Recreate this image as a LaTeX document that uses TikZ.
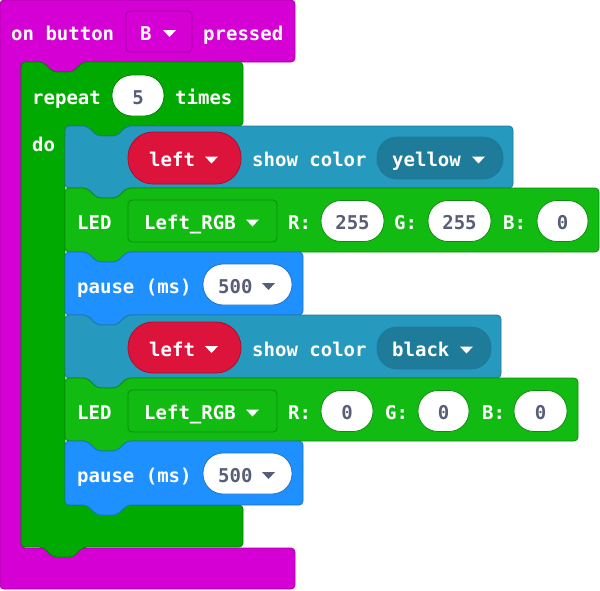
\documentclass[tikz,border=0pt]{standalone}
\usepackage{fontspec}
\setmonofont{DejaVu Sans Mono}
\usepackage{tikz}
\usetikzlibrary{positioning}

\definecolor{evt}{HTML}{D400D4}
\definecolor{evtline}{HTML}{A000A0}
\definecolor{loop}{HTML}{00AA00}
\definecolor{loopline}{HTML}{008200}
\definecolor{led}{HTML}{11BB11}
\definecolor{ledline}{HTML}{0C8C0C}
\definecolor{neo}{HTML}{2699BF}
\definecolor{neoline}{HTML}{1E7A99}
\definecolor{neodrop}{HTML}{1F7B9A}
\definecolor{basic}{HTML}{1E90FF}
\definecolor{basicline}{HTML}{1A73CC}
\definecolor{crim}{HTML}{DC143C}
\definecolor{crimline}{HTML}{A8102E}
\definecolor{valtext}{HTML}{575E75}

% stacked block: style, left, top, right, bottom
\newcommand{\stackblock}[5]{%
  \draw[#1] (#2,#3) -- ++(22,0) -- ++(10,10) -- ++(20,0) -- ++(10,-10)
    -- (#4,#3) -- (#4,#5) -- (#2+62,#5) -- ++(-10,10) -- ++(-20,0)
    -- ++(-10,-10) -- (#2,#5) -- cycle;}
% dropdown arrow: left, top, colour
\newcommand{\droparrow}[3]{\fill[#3] (#1,#2+1.5) -- ++(13,0) -- ++(-6.5,7) -- cycle;}

\begin{document}
\begin{tikzpicture}
    [x=1pt, y=-1pt,
     blk/.style={rounded corners=4pt, line width=0.8pt},
     txt/.style={anchor=west, inner sep=0pt, text height=13.5pt, text depth=0pt,
       yshift=-2pt, text=white, font=\ttfamily\bfseries\fontsize{19}{20}\selectfont},
     num/.style={txt, anchor=center, text=valtext},
     oval/.style={draw=#1, fill=white, line width=0.8pt, rounded corners=20pt,
       minimum height=41pt},
     menu/.style={draw=#1, line width=0.8pt, rounded corners=4pt,
       minimum height=42pt}]

    \useasboundingbox (0,0) rectangle (600,590);

    % on button B pressed
    \draw[blk, fill=evt, draw=evtline] (0,0) -- (295,0) -- (295,62) -- (83,62)
      -- ++(-10,10) -- ++(-20,0) -- ++(-10,-10) -- (21,62) -- (21,548)
      -- (295,548) -- (295,589) -- (0,589) -- cycle;
    \node[txt] (onbtn) at (11,31.5) {on button};
    \node[menu=evtline, fill=evt, minimum width=66pt, minimum height=41pt] (btnkey) at (159,31.5) {};
    \node[txt] (btnname) at (140,31.5) {B};
    \droparrow{163}{28.5}{white}
    \node[txt] (pressed) at (203,31.5) {pressed};

    % repeat 5 times
    \draw[blk, fill=loop, draw=loopline] (21,62) -- ++(22,0) -- ++(10,10)
      -- ++(20,0) -- ++(10,-10) -- (243,62) -- (243,126) -- (127,126)
      -- ++(-10,10) -- ++(-20,0) -- ++(-10,-10) -- (65,126) -- (65,505)
      -- (243,505) -- (243,547) -- (83,547) -- ++(-10,10) -- ++(-20,0)
      -- ++(-10,-10) -- (21,547) -- cycle;
    \node[txt] (repeat) at (32,95.5) {repeat};
    \node[oval=loopline, minimum width=52pt] (reps) at (138,95.5) {};
    \node[num] at (reps) {5};
    \node[txt] (times) at (175,95.5) {times};
    \node[txt] (do) at (32,143) {do};

    % left show color yellow
    \stackblock{blk, fill=neo, draw=neoline}{65}{126}{513}{188}
    \node[oval=crimline, fill=crim, minimum width=113pt, minimum height=52pt,
      rounded corners=25pt] (side1) at (184.5,158) {};
    \node[txt] (sidetext1) at (149,158) {left};
    \droparrow{205}{155}{white}
    \node[txt] (show1) at (252,158) {show color};
    \node[menu=neoline, fill=neodrop, minimum width=126pt, rounded corners=20pt] (col1) at (440,158) {};
    \node[txt] (coltext1) at (392,158) {yellow};
    \droparrow{472}{155}{white}

    % LED Left_RGB 255 255 0
    \stackblock{blk, fill=led, draw=ledline}{65}{188}{599}{252}
    \node[txt] (led1) at (77,221) {LED};
    \node[menu=ledline, fill=led, minimum width=149pt] (rgb1) at (202.5,221) {};
    \node[txt] (rgbtext1) at (144,221) {Left\_RGB};
    \droparrow{246}{218}{white}
    \node[txt] (r1) at (288,221) {R:};
    \node[oval=ledline, minimum width=63pt] (rval1) at (352.5,221) {};
    \node[num] at (rval1) {255};
    \node[txt] (g1) at (394,221) {G:};
    \node[oval=ledline, minimum width=63pt] (gval1) at (459.5,221) {};
    \node[num] at (gval1) {255};
    \node[txt] (b1) at (503,221) {B:};
    \node[oval=ledline, minimum width=51pt] (bval1) at (562.5,221) {};
    \node[num] at (bval1) {0};

    % pause 500
    \stackblock{blk, fill=basic, draw=basicline}{65}{252}{303}{315}
    \node[txt] (pause1) at (77,284.5) {pause (ms)};
    \node[oval=basicline, minimum width=89pt] (ms1) at (247.5,284.5) {};
    \node[txt, text=valtext] (mstext1) at (218,284.5) {500};
    \droparrow{262}{281.5}{valtext}

    % left show color black
    \stackblock{blk, fill=neo, draw=neoline}{65}{315}{501}{378}
    \node[oval=crimline, fill=crim, minimum width=113pt, minimum height=51pt,
      rounded corners=25pt] (side2) at (184.5,347.5) {};
    \node[txt] (sidetext2) at (149,347.5) {left};
    \droparrow{205}{344.5}{white}
    \node[txt] (show2) at (252,347.5) {show color};
    \node[menu=neoline, fill=neodrop, minimum width=114pt, rounded corners=20pt] (col2) at (434,348) {};
    \node[txt] (coltext2) at (392,348) {black};
    \droparrow{460}{345}{white}

    % LED Left_RGB 0 0 0
    \stackblock{blk, fill=led, draw=ledline}{65}{378}{578}{441}
    \node[txt] (led2) at (77,411) {LED};
    \node[menu=ledline, fill=led, minimum width=149pt] (rgb2) at (202.5,411) {};
    \node[txt] (rgbtext2) at (144,411) {Left\_RGB};
    \droparrow{246}{408}{white}
    \node[txt] (r2) at (288,411) {R:};
    \node[oval=ledline, minimum width=52pt] (rval2) at (347,411) {};
    \node[num] at (rval2) {0};
    \node[txt] (g2) at (385,411) {G:};
    \node[oval=ledline, minimum width=51pt] (gval2) at (443.5,411) {};
    \node[num] at (gval2) {0};
    \node[txt] (b2) at (482,411) {B:};
    \node[oval=ledline, minimum width=53pt] (bval2) at (540.5,411) {};
    \node[num] at (bval2) {0};

    % pause 500
    \stackblock{blk, fill=basic, draw=basicline}{65}{441}{303}{505}
    \node[txt] (pause2) at (77,473.5) {pause (ms)};
    \node[oval=basicline, minimum width=89pt] (ms2) at (247.5,473.5) {};
    \node[txt, text=valtext] (mstext2) at (218,473.5) {500};
    \droparrow{262}{470.5}{valtext}
\end{tikzpicture}
\end{document}
